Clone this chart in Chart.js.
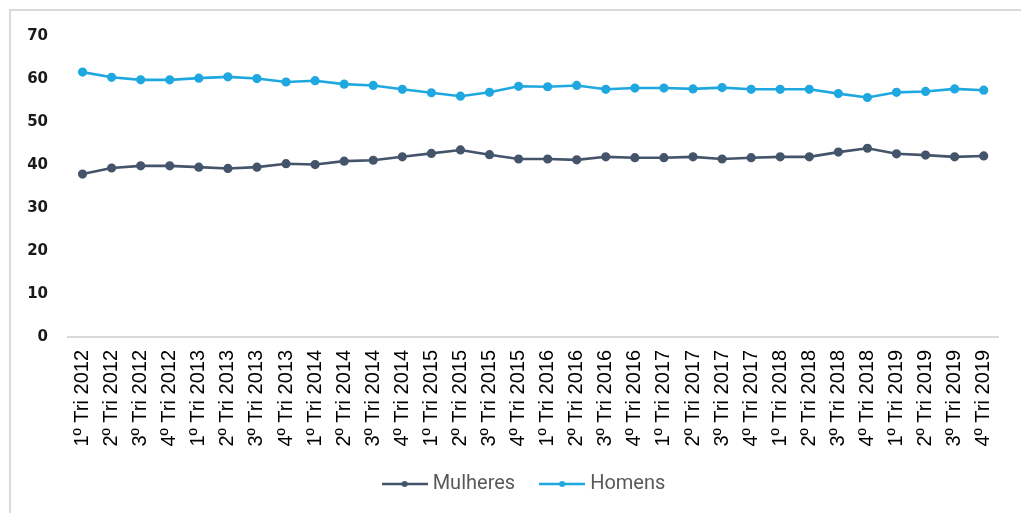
<!DOCTYPE html>
<html>
<head>
<meta charset="utf-8">
<script src="https://cdn.jsdelivr.net/npm/chart.js@4/dist/chart.umd.min.js"></script>
<style>
  html, body { margin: 0; padding: 0; background: #fff; }
  #frame { position: absolute; left: 9px; top: 9px; right: 0; bottom: 0;
           border-left: 2px solid #d9d9d9; border-top: 2px solid #d9d9d9; }
  #wrap { position: absolute; left: 0; top: 0; width: 1021px; height: 513px; }
</style>
</head>
<body>
<div id="frame"></div>
<div id="wrap"><canvas id="chart" width="1021" height="513"></canvas></div>
<script>
const quarters = ['1º', '2º', '3º', '4º'];
const years = [2012, 2013, 2014, 2015, 2016, 2017, 2018, 2019];
const labels = years.flatMap(y => quarters.map(q => q + ' Tri ' + y));

const mulheres = [37.9, 39.3, 39.8, 39.8, 39.5, 39.2, 39.5, 40.3, 40.1, 40.9, 41.1, 41.9,
                  42.7, 43.5, 42.4, 41.4, 41.4, 41.2, 41.9, 41.7, 41.7, 41.9, 41.4, 41.7,
                  41.9, 41.9, 43.0, 43.9, 42.6, 42.3, 41.9, 42.1];
const homens = [61.6, 60.4, 59.8, 59.8, 60.2, 60.5, 60.1, 59.3, 59.6, 58.8, 58.5, 57.6,
                56.8, 56.0, 56.9, 58.3, 58.2, 58.5, 57.6, 57.9, 57.9, 57.7, 58.0, 57.6,
                57.6, 57.6, 56.6, 55.7, 56.9, 57.1, 57.7, 57.4];
const yTicks = [0, 10, 20, 30, 40, 50, 60, 70];

const colMulheres = '#44546A';
const colHomens = '#1FA8E0';

// legend marker: short line with a dot in the middle
function legendMarker(color) {
    const c = document.createElement('canvas');
    c.width = 46; c.height = 10;
    const g = c.getContext('2d');
    g.strokeStyle = color; g.lineWidth = 2.5;
    g.beginPath(); g.moveTo(0, 5); g.lineTo(46, 5); g.stroke();
    g.fillStyle = color;
    g.beginPath(); g.arc(23, 5, 3, 0, Math.PI * 2); g.fill();
    return c;
}

const series = [
    { label: 'Mulheres', data: mulheres, color: colMulheres },
    { label: 'Homens', data: homens, color: colHomens }
];

// nudge the legend right and up a little, like the original
const legendShift = {
    id: 'legendShift',
    afterLayout(chart) {
        const lg = chart.legend;
        lg.left += 25; lg.right += 25;
        lg.top -= 4; lg.bottom -= 4;
    }
};

new Chart(document.getElementById('chart'), {
    type: 'line',
    data: {
        labels: labels,
        datasets: series.map(s => ({
            label: s.label,
            data: s.data,
            borderColor: s.color,
            backgroundColor: s.color,
            pointBackgroundColor: s.color,
            pointBorderColor: s.color,
            borderWidth: 2.6,
            pointRadius: 3.3,
            pointHoverRadius: 3.3,
            tension: 0,
            fill: false
        }))
    },
    plugins: [legendShift],
    options: {
        responsive: false,
        animation: false,
        events: [],
        layout: { padding: { left: 0, right: 19, top: 36, bottom: 5 } },
        plugins: {
            tooltip: { enabled: false },
            legend: {
                position: 'bottom',
                labels: {
                    usePointStyle: true,
                    pointStyleWidth: 36,
                    padding: 29,
                    color: '#595959',
                    font: { family: 'Roboto', size: 20 },
                    generateLabels: chart => series.map((s, i) => ({
                        text: s.label,
                        fillStyle: s.color,
                        strokeStyle: s.color,
                        fontColor: '#595959',
                        pointStyle: legendMarker(s.color),
                        datasetIndex: i,
                        hidden: false
                    }))
                }
            }
        },
        scales: {
            x: {
                offset: true,
                grid: { display: false, drawTicks: false },
                border: { display: true, color: '#d9d9d9', width: 2 },
                ticks: {
                    autoSkip: false,
                    maxRotation: 90,
                    minRotation: 90,
                    padding: 13,
                    color: '#000',
                    font: { family: 'Liberation Sans', size: 20 }
                },
                afterFit: scale => { scale.height = 112; }
            },
            y: {
                min: 0,
                max: 70,
                afterBuildTicks: scale => { scale.ticks = yTicks.map(v => ({ value: v })); },
                grid: { display: false, drawTicks: false },
                border: { display: false },
                ticks: {
                    padding: 20,
                    color: '#1a1a1a',
                    font: { family: 'DejaVu Sans', size: 15, weight: 'bold' }
                },
                afterFit: scale => { scale.width = 68; }
            }
        }
    }
});
</script>
</body>
</html>
